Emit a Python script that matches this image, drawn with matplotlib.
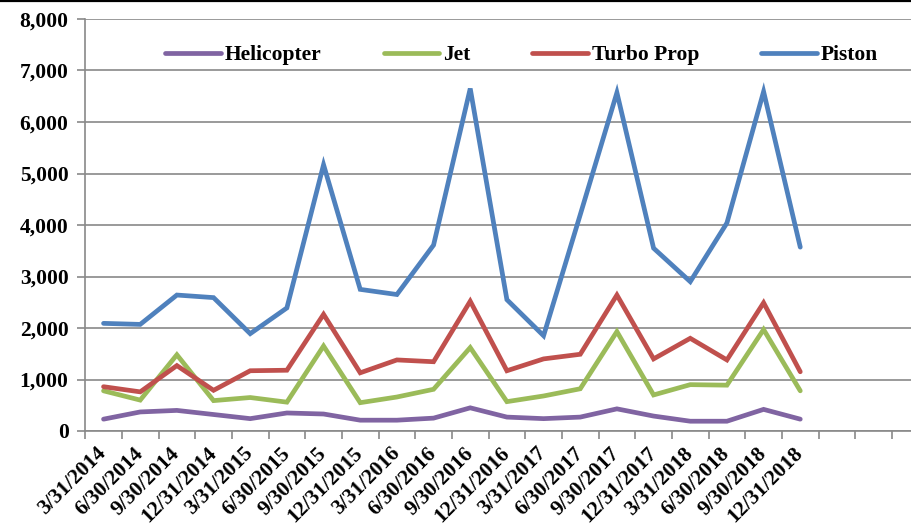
import matplotlib
matplotlib.use("Agg")
import matplotlib.pyplot as plt
import numpy as np
from matplotlib.lines import Line2D
from matplotlib.ticker import FuncFormatter, MultipleLocator

quarters = [
    "3/31/2014", "6/30/2014", "9/30/2014", "12/31/2014",
    "3/31/2015", "6/30/2015", "9/30/2015", "12/31/2015",
    "3/31/2016", "6/30/2016", "9/30/2016", "12/31/2016",
    "3/31/2017", "6/30/2017", "9/30/2017", "12/31/2017",
    "3/31/2018", "6/30/2018", "9/30/2018", "12/31/2018",
]
n_slots = 23  # the category axis keeps a few empty slots after the data

helicopter = [230, 370, 400, 320, 240, 350, 330, 210, 210, 250,
              450, 270, 240, 270, 430, 290, 190, 190, 420, 230]
jet = [780, 600, 1480, 590, 650, 560, 1650, 550, 660, 810,
       1620, 570, 680, 820, 1930, 700, 900, 890, 1970, 780]
turbo_prop = [860, 760, 1270, 790, 1170, 1180, 2265, 1130, 1380, 1345,
              2520, 1170, 1400, 1490, 2640, 1400, 1800, 1380, 2490, 1150]
piston = [2090, 2070, 2640, 2590, 1890, 2390, 5170, 2750, 2650, 3610,
          6650, 2550, 1850, 4200, 6570, 3550, 2900, 4040, 6590, 3570]

series = [
    ("Helicopter", helicopter, "#8064A2"),
    ("Jet", jet, "#9BBB59"),
    ("Turbo Prop", turbo_prop, "#C0504D"),
    ("Piston", piston, "#4F81BD"),
]

plt.rcParams.update({
    "font.family": ["Liberation Serif", "DejaVu Serif"],
    "font.weight": "bold",
    "font.size": 15.5,
})

W, H = 911, 525
fig = plt.figure(figsize=(W / 100, H / 100), dpi=100)
slot = 36.67
left_px, bottom_px, top_px = 85.2, 431, 19
ax = fig.add_axes([left_px / W, (H - bottom_px) / H,
                   n_slots * slot / W, (bottom_px - top_px) / H])

grid_color = "#898989"
x = np.arange(len(quarters))
for name, values, color in series:
    ax.plot(x, values, color=color, lw=3.4, label=name,
            solid_capstyle="round", solid_joinstyle="miter")

ax.set_xlim(-0.5, n_slots - 0.5)
ax.set_ylim(0, 8000)
ax.yaxis.set_major_locator(MultipleLocator(1000))
ax.yaxis.set_major_formatter(FuncFormatter(lambda v, p: f"{int(v):,}"))
ax.grid(axis="y", color=grid_color, lw=1.2)
ax.set_axisbelow(True)

ax.set_xticks(x)
ax.set_xticklabels(quarters, rotation=45, ha="right", va="center",
                   rotation_mode="anchor", fontweight="bold")
ax.set_xticks(np.arange(n_slots + 1) - 0.5, minor=True)
ax.tick_params(axis="x", which="major", length=0, pad=14)
ax.tick_params(axis="x", which="minor", length=6, width=1.2,
               color=grid_color, direction="out")
ax.tick_params(axis="y", length=6, width=1.2, color=grid_color,
               direction="out", pad=6)
for lab in ax.get_yticklabels():
    lab.set_fontweight("bold")

for side in ("top", "right"):
    ax.spines[side].set_visible(False)
for side in ("left", "bottom"):
    ax.spines[side].set_color(grid_color)
    ax.spines[side].set_linewidth(1.2)

fig.legend(loc="center", bbox_to_anchor=(521.5 / W, 1 - 55 / H), ncol=4,
           frameon=False, handlelength=2.6, handletextpad=0.15,
           columnspacing=2.9, prop={"weight": "bold", "size": 15.5})

fig.add_artist(Line2D([0, 1], [1 - 1 / H, 1 - 1 / H], color="black",
                      lw=1.6, transform=fig.transFigure))

fig.savefig("out.png", dpi=100)
